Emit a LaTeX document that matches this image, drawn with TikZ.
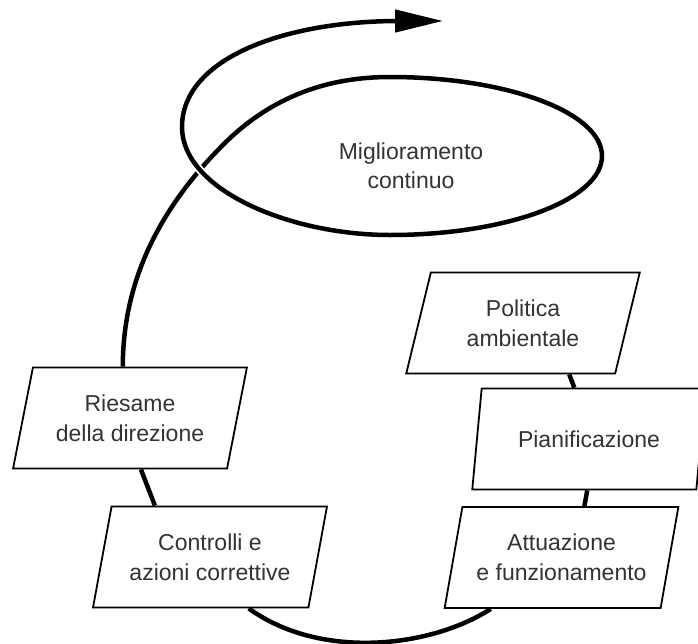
\documentclass[tikz,border=0pt]{standalone}
\usepackage{fontspec}
\setmainfont{Liberation Sans}
\usetikzlibrary{shapes.geometric,arrows.meta,backgrounds}
\begin{document}
\begin{tikzpicture}[x=1pt,y=-1pt,
  stepbox/.style={trapezium, trapezium left angle=73, trapezium right angle=107,
    trapezium stretches=true, minimum width=234pt, minimum height=101pt,
    draw=black, line width=1.8pt, fill=white, inner sep=2pt, align=center,
    font=\fontsize{23}{30}\selectfont, text=black!80},
  mtext/.style={align=center, font=\fontsize{23}{29}\selectfont, text=black!80},
  spiral/.style={line width=4.5pt, black},
  link/.style={line width=4.5pt, black}
]
\useasboundingbox (0,0) rectangle (698,643);

% nodes
\node[mtext] (mig) at (411,166) {Miglioramento\\continuo};
\node[stepbox] (pol) at (523,323) {Politica\\ambientale};
\node[stepbox] (pia) at (589,439) {Pianificazione};
\node[stepbox] (att) at (561.5,557.5) {Attuazione\\e funzionamento};
\node[stepbox] (con) at (210,557) {Controlli e\\azioni correttive};
\node[stepbox] (rie) at (130,418) {Riesame\\della direzione};
\coordinate (tip) at (443,21);

\begin{pgfonlayer}{background}
  % connectors between the steps
  \draw[link] (pol.-48) -- (pia.106.7);
  \draw[link] (pia.-92.3) -- (att.66.9);
  \draw[link] (att.-144) .. controls (430,648) and (320,660) .. (con.-53.3);
  \draw[link] (con.137) -- (rie.-78.7);
  % spiral: up the left side, around the ellipse
  \draw[spiral] (rie.98) .. controls (123,280) and (160,210) .. (218,150)
     .. controls (270,95) and (330,77) .. (390,77)
     .. controls (507,77) and (602,112.4) .. (602,156)
     .. controls (602,199.6) and (507,235) .. (390,235);
  % white halo where the loop crosses over
  \draw[white, line width=8pt] (390,235) .. controls (290,235) and (182,190) .. (182,127);
  % loop and final arrow
  \draw[spiral, -{Triangle[length=48pt,width=22pt]}] (390,235)
     .. controls (290,235) and (182,190) .. (182,127)
     .. controls (182,60) and (280,22) .. (395,21) -- (tip);
\end{pgfonlayer}
\end{tikzpicture}
\end{document}
